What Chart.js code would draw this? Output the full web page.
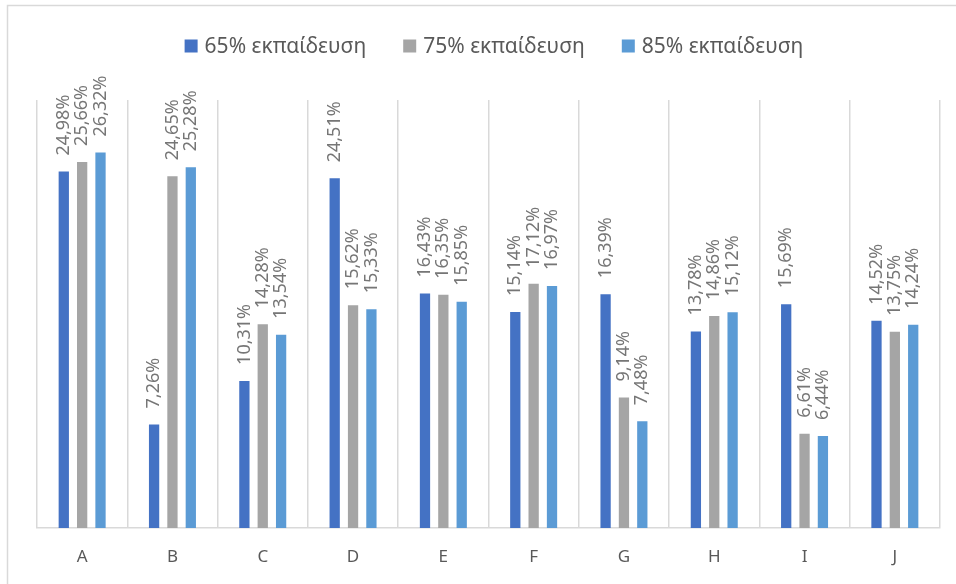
<!DOCTYPE html>
<html>
<head>
<meta charset="utf-8">
<title>Ποσοστά ανά κατηγορία</title>
<script src="https://cdn.jsdelivr.net/npm/chart.js@4/dist/chart.umd.min.js"></script>
<style>
  html, body { margin: 0; padding: 0; background: #ffffff; }
  #wrap { width: 956px; height: 584px; position: relative; }
</style>
</head>
<body>
<div id="wrap"><canvas id="chart" width="956" height="584"></canvas></div>
<script>
// Categories and the three series (percent values)
const categories = ['A', 'B', 'C', 'D', 'E', 'F', 'G', 'H', 'I', 'J'];
const seriesNames = ['65% εκπαίδευση', '75% εκπαίδευση', '85% εκπαίδευση'];
const edu65 = [24.98, 7.26, 10.31, 24.51, 16.43, 15.14, 16.39, 13.78, 15.69, 14.52];
const edu75 = [25.66, 24.65, 14.28, 15.62, 16.35, 17.12, 9.14, 14.86, 6.61, 13.75];
const edu85 = [26.32, 25.28, 13.54, 15.33, 15.85, 16.97, 7.48, 15.12, 6.44, 14.24];
const seriesColors = ['#4472C4', '#A5A5A5', '#5B9BD5'];

const FONT = '"Noto Sans", "DejaVu Sans", sans-serif';
const TEXT_GREY = '#595959';
const LABEL_GREY = '#767676';
const GRID = '#D9D9D9';

const fmt = v => v.toFixed(2).replace('.', ',') + '%';

// Outer frame of the chart
const framePlugin = {
  id: 'frame',
  beforeDraw(chart) {
    const ctx = chart.ctx;
    ctx.save();
    ctx.fillStyle = '#ffffff';
    ctx.fillRect(0, 0, chart.width, chart.height);
    ctx.strokeStyle = GRID;
    ctx.lineWidth = 1.5;
    ctx.strokeRect(7.5, 5.5, chart.width + 20, chart.height + 20);
    ctx.restore();
  }
};

// Legend row drawn across the top
const legendRowPlugin = {
  id: 'legendRow',
  afterDraw(chart) {
    const ctx = chart.ctx;
    const box = 13, gapText = 7, gapItem = 37, cy = 46, cx = 494;
    ctx.save();
    ctx.font = '21px ' + FONT;
    ctx.textBaseline = 'middle';
    ctx.textAlign = 'left';
    const items = chart.data.datasets.map(ds => ({
      text: ds.label, color: ds.backgroundColor, w: ctx.measureText(ds.label).width
    }));
    const total = items.reduce((s, it) => s + box + gapText + it.w, 0) + gapItem * (items.length - 1);
    let x = cx - total / 2;
    items.forEach(it => {
      ctx.fillStyle = it.color;
      ctx.fillRect(x, cy - box / 2, box, box);
      ctx.fillStyle = TEXT_GREY;
      ctx.fillText(it.text, x + box + gapText, cy + 1);
      x += box + gapText + it.w + gapItem;
    });
    ctx.restore();
  }
};

// Vertical value labels above each bar
const valueLabelPlugin = {
  id: 'valueLabels',
  afterDatasetsDraw(chart) {
    const ctx = chart.ctx;
    ctx.save();
    ctx.font = '18px ' + FONT;
    ctx.fillStyle = LABEL_GREY;
    ctx.textAlign = 'left';
    ctx.textBaseline = 'middle';
    chart.data.datasets.forEach((ds, di) => {
      const meta = chart.getDatasetMeta(di);
      meta.data.forEach((bar, i) => {
        ctx.save();
        ctx.translate(bar.x, bar.y - 16);
        ctx.rotate(-Math.PI / 2);
        ctx.fillText(fmt(ds.data[i]), 0, 0);
        ctx.restore();
      });
    });
    ctx.restore();
  }
};

new Chart(document.getElementById('chart'), {
  type: 'bar',
  data: {
    labels: categories,
    datasets: [
      { label: seriesNames[0], data: edu65, backgroundColor: seriesColors[0] },
      { label: seriesNames[1], data: edu75, backgroundColor: seriesColors[1] },
      { label: seriesNames[2], data: edu85, backgroundColor: seriesColors[2] }
    ]
  },
  options: {
    responsive: false,
    animation: false,
    devicePixelRatio: 1,
    layout: { padding: { top: 100, left: 37, right: 16, bottom: 0 } },
    datasets: {
      bar: { categoryPercentage: 0.61, barPercentage: 0.56 }
    },
    plugins: {
      legend: { display: false },
      tooltip: { enabled: false },
      title: { display: false }
    },
    scales: {
      x: {
        grid: {
          offset: true,
          color: GRID,
          lineWidth: 1.5,
          drawTicks: false
        },
        border: { color: GRID, width: 1.5 },
        ticks: {
          color: TEXT_GREY,
          font: { family: FONT, size: 17 },
          padding: 19
        },
        afterFit(scale) { scale.height = 56; }
      },
      y: {
        display: false,
        min: 0,
        max: 30
      }
    }
  },
  plugins: [framePlugin, valueLabelPlugin, legendRowPlugin]
});
</script>
</body>
</html>
